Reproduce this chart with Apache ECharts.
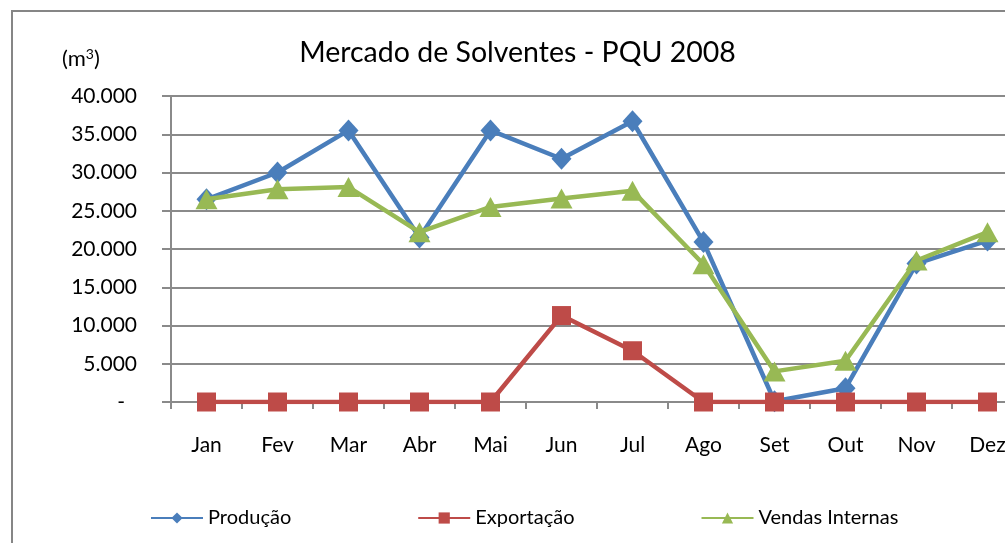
<!DOCTYPE html>
<html>
<head>
<meta charset="utf-8">
<script src="https://cdn.jsdelivr.net/npm/echarts@6/dist/echarts.min.js"></script>
<style>
  html, body { margin: 0; padding: 0; background: #fff; overflow: hidden; }
  /* 原图右侧被裁掉：画布比窗口宽 */
  #chart { width: 1035px; height: 543px; }
</style>
</head>
<body>
<div id="chart"></div>
<script>
// 月份
const meses = ['Jan', 'Fev', 'Mar', 'Abr', 'Mai', 'Jun', 'Jul', 'Ago', 'Set', 'Out', 'Nov', 'Dez']
// 各系列数据 (m3)
const producao = [26500, 30000, 35500, 21500, 35500, 31800, 36700, 20900, 100, 1800, 18100, 21100]
const exportacao = [0, 0, 0, 0, 0, 11300, 6700, 0, 0, 0, 0, 0]
const vendasInternas = [26500, 27800, 28100, 22200, 25500, 26600, 27600, 18000, 4000, 5400, 18500, 22200]

const fonte = 'Lato'
const cinza = '#8a8a8a'

// 千位分隔 40000 -> 40.000
function fmt(v) {
    if (v === 0) return '{d|-}'
    return String(v).replace(/\B(?=(\d{3})+(?!\d))/g, '.')
}

const chart = echarts.init(document.getElementById('chart'))
chart.setOption({
    animation: false,
    textStyle: { fontFamily: fonte },
    title: {
        text: 'Mercado de Solventes - PQU 2008',
        left: 'center',
        top: 33,
        textStyle: { fontFamily: fonte, fontSize: 28.5, fontWeight: 'normal', color: '#000' }
    },
    graphic: [
        {
            // 外框
            type: 'rect',
            shape: { x: 12, y: 11, width: 1100, height: 600 },
            style: { fill: 'none', stroke: '#868686', lineWidth: 2 }
        },
        {
            type: 'text',
            left: 62,
            top: 47,
            style: {
                text: '(m{s|3})',
                font: '22px Lato',
                fill: '#000',
                rich: {
                    s: { fontSize: 14, verticalAlign: 'top', padding: [0, 0, 10, 0], fontFamily: fonte }
                }
            }
        }
    ],
    legend: {
        left: 145,
        top: 503,
        itemWidth: 52,
        itemHeight: 14,
        itemGap: 126,
        textStyle: { fontFamily: fonte, fontSize: 20, color: '#000' },
        data: ['Produção', 'Exportação', 'Vendas Internas']
    },
    grid: { left: 171, top: 96, height: 306, width: 852 },
    xAxis: {
        type: 'category',
        data: meses,
        boundaryGap: true,
        axisLine: { lineStyle: { color: cinza, width: 2 } },
        axisTick: { show: true, length: 7, lineStyle: { color: cinza, width: 2 } },
        axisLabel: { margin: 33, fontSize: 21, color: '#000', fontFamily: fonte }
    },
    yAxis: {
        type: 'value',
        min: 0,
        max: 40000,
        interval: 5000,
        axisLine: { show: true, lineStyle: { color: cinza, width: 2 } },
        axisTick: { show: true, length: 9, lineStyle: { color: cinza, width: 2 } },
        splitLine: { lineStyle: { color: cinza, width: 2 } },
        axisLabel: {
            margin: 34,
            fontSize: 21,
            color: '#000',
            fontFamily: fonte,
            formatter: fmt,
            rich: { d: { fontSize: 21, padding: [0, 12, 0, 0], fontFamily: fonte } }
        }
    },
    series: [
        {
            name: 'Produção',
            type: 'line',
            data: producao,
            color: '#4a7ebb',
            symbol: 'diamond',
            symbolSize: [20, 22],
            lineStyle: { width: 4.5 },
            z: 2
        },
        {
            name: 'Exportação',
            type: 'line',
            data: exportacao,
            color: '#be4b48',
            symbol: 'rect',
            symbolSize: 19,
            lineStyle: { width: 4.5 },
            z: 3
        },
        {
            name: 'Vendas Internas',
            type: 'line',
            data: vendasInternas,
            color: '#98b954',
            symbol: 'triangle',
            symbolSize: [22, 20],
            lineStyle: { width: 4.5 },
            z: 4
        }
    ]
})
</script>
</body>
</html>
